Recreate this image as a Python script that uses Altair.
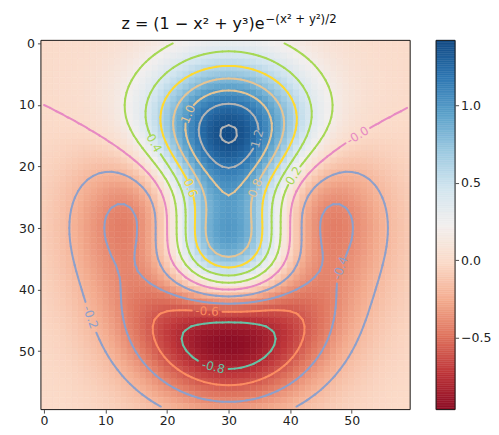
import numpy as np
import pandas as pd
import altair as alt

# ---------------- data read from / stated in the picture ----------------
TITLE_MAIN = "z = (1 − x² + y³)e"
TITLE_EXP = "−(x² + y²)/2"

X_COORDS = np.round(-3.0 + np.arange(60) * 0.1, 10)   # columns, left to right
Y_COORDS = np.round(3.0 - np.arange(60) * 0.1, 10)    # rows, top to bottom

LEVELS = [-0.8, -0.6, -0.4, -0.2, 0.0, 0.2, 0.4, 0.6, 0.8, 1.0, 1.2, 1.4]
LEVEL_TEXT = ["-0.8", "-0.6", "-0.4", "-0.2", "-0.0", "0.2", "0.4", "0.6",
              "0.8", "1.0", "1.2", "1.4"]
LEVEL_COLORS = ["#66c2a5", "#fc8d62", "#8da0cb", "#8da0cb", "#e78ac3", "#a6d854",
                "#a6d854", "#ffd92f", "#e5c494", "#e5c494", "#b3b3b3", "#b3b3b3"]

# contour-label anchors (column, row)
LABEL_TEXT = ["-0.8", "-0.6", "-0.4", "-0.2", "-0.0", "0.2", "0.4", "0.6", "0.8", "1.0", "1.2"]
LABEL_COL = [27.1, 26.3, 48.0, 3.7, 50.4, 39.9, 18.2, 24.2, 34.3, 23.4, 34.8]
LABEL_ROW = [52.5, 43.4, 35.9, 45.5, 13.8, 21.0, 16.2, 23.3, 23.0, 11.3, 15.2]

AXIS_TICKS = [0, 10, 20, 30, 40, 50]
COLORBAR_TICKS = [-0.5, 0.0, 0.5, 1.0]

# ---------------- surface from the title's formula ----------------
X, Y = np.meshgrid(X_COORDS, Y_COORDS)
Z = (1 - X ** 2 + Y ** 3) * np.exp(-(X ** 2 + Y ** 2) / 2)
VMIN, VMAX = float(Z.min()), float(Z.max())

nr, nc = Z.shape
ii, jj = np.meshgrid(np.arange(nr), np.arange(nc), indexing="ij")
heat = pd.DataFrame({
    "x": (jj - 0.5).ravel(), "x2": (jj + 0.5).ravel(),
    "y": (ii - 0.5).ravel(), "y2": (ii + 0.5).ravel(),
    "z": Z.ravel(),
})


# ---------------- marching squares ----------------
def march(Zg, L):
    segs = []
    for i in range(Zg.shape[0] - 1):
        for j in range(Zg.shape[1] - 1):
            a, b, c, d = Zg[i, j], Zg[i, j + 1], Zg[i + 1, j + 1], Zg[i + 1, j]
            sa, sb, sc, sd = a >= L, b >= L, c >= L, d >= L
            pts = {}
            if sa != sb:
                pts["t"] = (j + (L - a) / (b - a), i)
            if sb != sc:
                pts["r"] = (j + 1, i + (L - b) / (c - b))
            if sd != sc:
                pts["b"] = (j + (L - d) / (c - d), i + 1)
            if sa != sd:
                pts["l"] = (j, i + (L - a) / (d - a))
            pairs = []
            if len(pts) == 2:
                pairs = [tuple(pts.keys())]
            elif len(pts) == 4:
                center = (a + b + c + d) / 4
                if (center >= L) == sa:
                    pairs = [("t", "r"), ("b", "l")]
                else:
                    pairs = [("l", "t"), ("r", "b")]
            for e1, e2 in pairs:
                p, q = pts[e1], pts[e2]
                if np.hypot(q[0] - p[0], q[1] - p[1]) > 1e-6:
                    segs.append((p[0], p[1], q[0], q[1]))
    return np.array(segs) if segs else np.zeros((0, 4))


seg_rows = []
label_rows = []
for lev, txt in zip(LEVELS, LEVEL_TEXT):
    S = march(Z, lev)
    if len(S) == 0:
        continue
    mid = np.column_stack([(S[:, 0] + S[:, 2]) / 2, (S[:, 1] + S[:, 3]) / 2])
    keep = np.ones(len(S), dtype=bool)
    if txt in LABEL_TEXT:
        k = LABEL_TEXT.index(txt)
        anchor = np.array([LABEL_COL[k], LABEL_ROW[k]])
        dist = np.hypot(*(mid - anchor).T)
        cpt = mid[np.argmin(dist)]
        near = mid[np.hypot(*(mid - cpt).T) < 1.6]
        if len(near) >= 2:
            cc = near - near.mean(axis=0)
            _, _, vt = np.linalg.svd(cc, full_matrices=False)
            vx, vy = vt[0]
        else:
            s = S[np.argmin(dist)]
            vx, vy = s[2] - s[0], s[3] - s[1]
        ang = np.degrees(np.arctan2(vy, vx))
        if ang > 90:
            ang -= 180
        if ang <= -90:
            ang += 180
        label_rows.append({"x": cpt[0], "y": cpt[1], "t": txt,
                           "lev": txt, "ang": ang % 360})
        r = 0.55 * len(txt) + 0.1
        keep = np.hypot(*(mid - cpt).T) > r
    for s in S[keep]:
        seg_rows.append({"x": s[0], "y": s[1], "x2": s[2], "y2": s[3], "lev": txt})

segs = pd.DataFrame(seg_rows)
labels = pd.DataFrame(label_rows)

# ---------------- chart ----------------
FONT = "DejaVu Sans"
W = H = 370
xs = alt.Scale(domain=[-0.5, 59.5], nice=False, zero=False)
ys = alt.Scale(domain=[-0.5, 59.5], nice=False, zero=False, reverse=True)
zs = alt.Scale(scheme="redblue", domain=[VMIN, VMAX])
lev_scale = alt.Scale(domain=LEVEL_TEXT, range=LEVEL_COLORS)

ax_x = alt.Axis(values=AXIS_TICKS, title=None, grid=False, domain=False,
                tickSize=3.5, tickColor="#222", tickWidth=0.8,
                labelFontSize=12.5, labelFont=FONT, labelColor="#222", labelPadding=1.5)
ax_y = alt.Axis(values=AXIS_TICKS, title=None, grid=False, domain=False,
                tickSize=3.5, tickColor="#222", tickWidth=0.8,
                labelFontSize=12.5, labelFont=FONT, labelColor="#222", labelPadding=3)

heatmap = alt.Chart(heat).mark_rect(strokeWidth=0.5).encode(
    x=alt.X("x:Q", scale=xs, axis=ax_x),
    x2="x2:Q",
    y=alt.Y("y:Q", scale=ys, axis=ax_y),
    y2="y2:Q",
    color=alt.Color("z:Q", scale=zs, legend=None),
    stroke=alt.Stroke("z:Q", scale=zs, legend=None),
)

contours = alt.Chart(segs).mark_rule(strokeWidth=2, strokeCap="round").encode(
    x=alt.X("x:Q", scale=xs),
    y=alt.Y("y:Q", scale=ys),
    x2="x2:Q",
    y2="y2:Q",
    color=alt.Color("lev:N", scale=lev_scale, legend=None),
)

clabels = alt.Chart(labels).mark_text(font=FONT, fontSize=12, align="center",
                                      baseline="middle").encode(
    x=alt.X("x:Q", scale=xs),
    y=alt.Y("y:Q", scale=ys),
    text="t:N",
    angle=alt.Angle("ang:Q", scale=None),
    color=alt.Color("lev:N", scale=lev_scale, legend=None),
)

border = alt.Chart(pd.DataFrame({"a": [0]})).mark_rect(
    fill=None, stroke="#1a1a1a", strokeWidth=1).encode(
    x=alt.datum(-0.5, scale=xs), x2=alt.datum(59.5),
    y=alt.datum(-0.5, scale=ys), y2=alt.datum(59.5),
)

title_main = alt.Chart(pd.DataFrame({"t": [TITLE_MAIN]})).mark_text(
    font=FONT, fontSize=16, align="right", baseline="alphabetic", color="#111").encode(
    text="t:N", x=alt.value(224), y=alt.value(-11))
title_exp = alt.Chart(pd.DataFrame({"t": [TITLE_EXP]})).mark_text(
    font=FONT, fontSize=11.8, align="left", baseline="alphabetic", color="#111").encode(
    text="t:N", x=alt.value(225), y=alt.value(-17.5))

left = alt.layer(heatmap, contours, clabels, border, title_main, title_exp).resolve_scale(
    color="independent", stroke="independent").properties(width=W, height=H)

cb = np.linspace(VMIN, VMAX, 201)
cbar_df = pd.DataFrame({"lo": cb[:-1], "hi": cb[1:], "mid": (cb[:-1] + cb[1:]) / 2})
cb_scale = alt.Scale(domain=[VMIN, VMAX], nice=False, zero=False)
cbar_body = alt.Chart(cbar_df).mark_rect(strokeWidth=0.5).encode(
    y=alt.Y("lo:Q", scale=cb_scale,
            axis=alt.Axis(orient="right", values=COLORBAR_TICKS, format=".1f",
                          title=None, grid=False, domain=False, tickSize=3.5,
                          tickColor="#222", tickWidth=0.8, labelFontSize=12.5,
                          labelFont=FONT, labelColor="#222", labelPadding=2)),
    y2="hi:Q",
    x=alt.value(0), x2=alt.value(19),
    color=alt.Color("mid:Q", scale=zs, legend=None),
    stroke=alt.Stroke("mid:Q", scale=zs, legend=None),
)
cbar_border = alt.Chart(pd.DataFrame({"a": [0]})).mark_rect(
    fill=None, stroke="#1a1a1a", strokeWidth=1).encode(
    y=alt.datum(VMIN, scale=cb_scale), y2=alt.datum(VMAX),
    x=alt.value(0), x2=alt.value(19))
right = alt.layer(cbar_body, cbar_border).properties(width=19, height=H)

chart = alt.hconcat(left, right, spacing=26, bounds="flush").resolve_scale(
    color="independent", stroke="independent").properties(
    padding={"left": 10, "top": 5, "right": 0, "bottom": 0},
    background="white",
).configure_view(stroke=None)

chart.save("out.html", embed_options={"renderer": "svg", "actions": False})
